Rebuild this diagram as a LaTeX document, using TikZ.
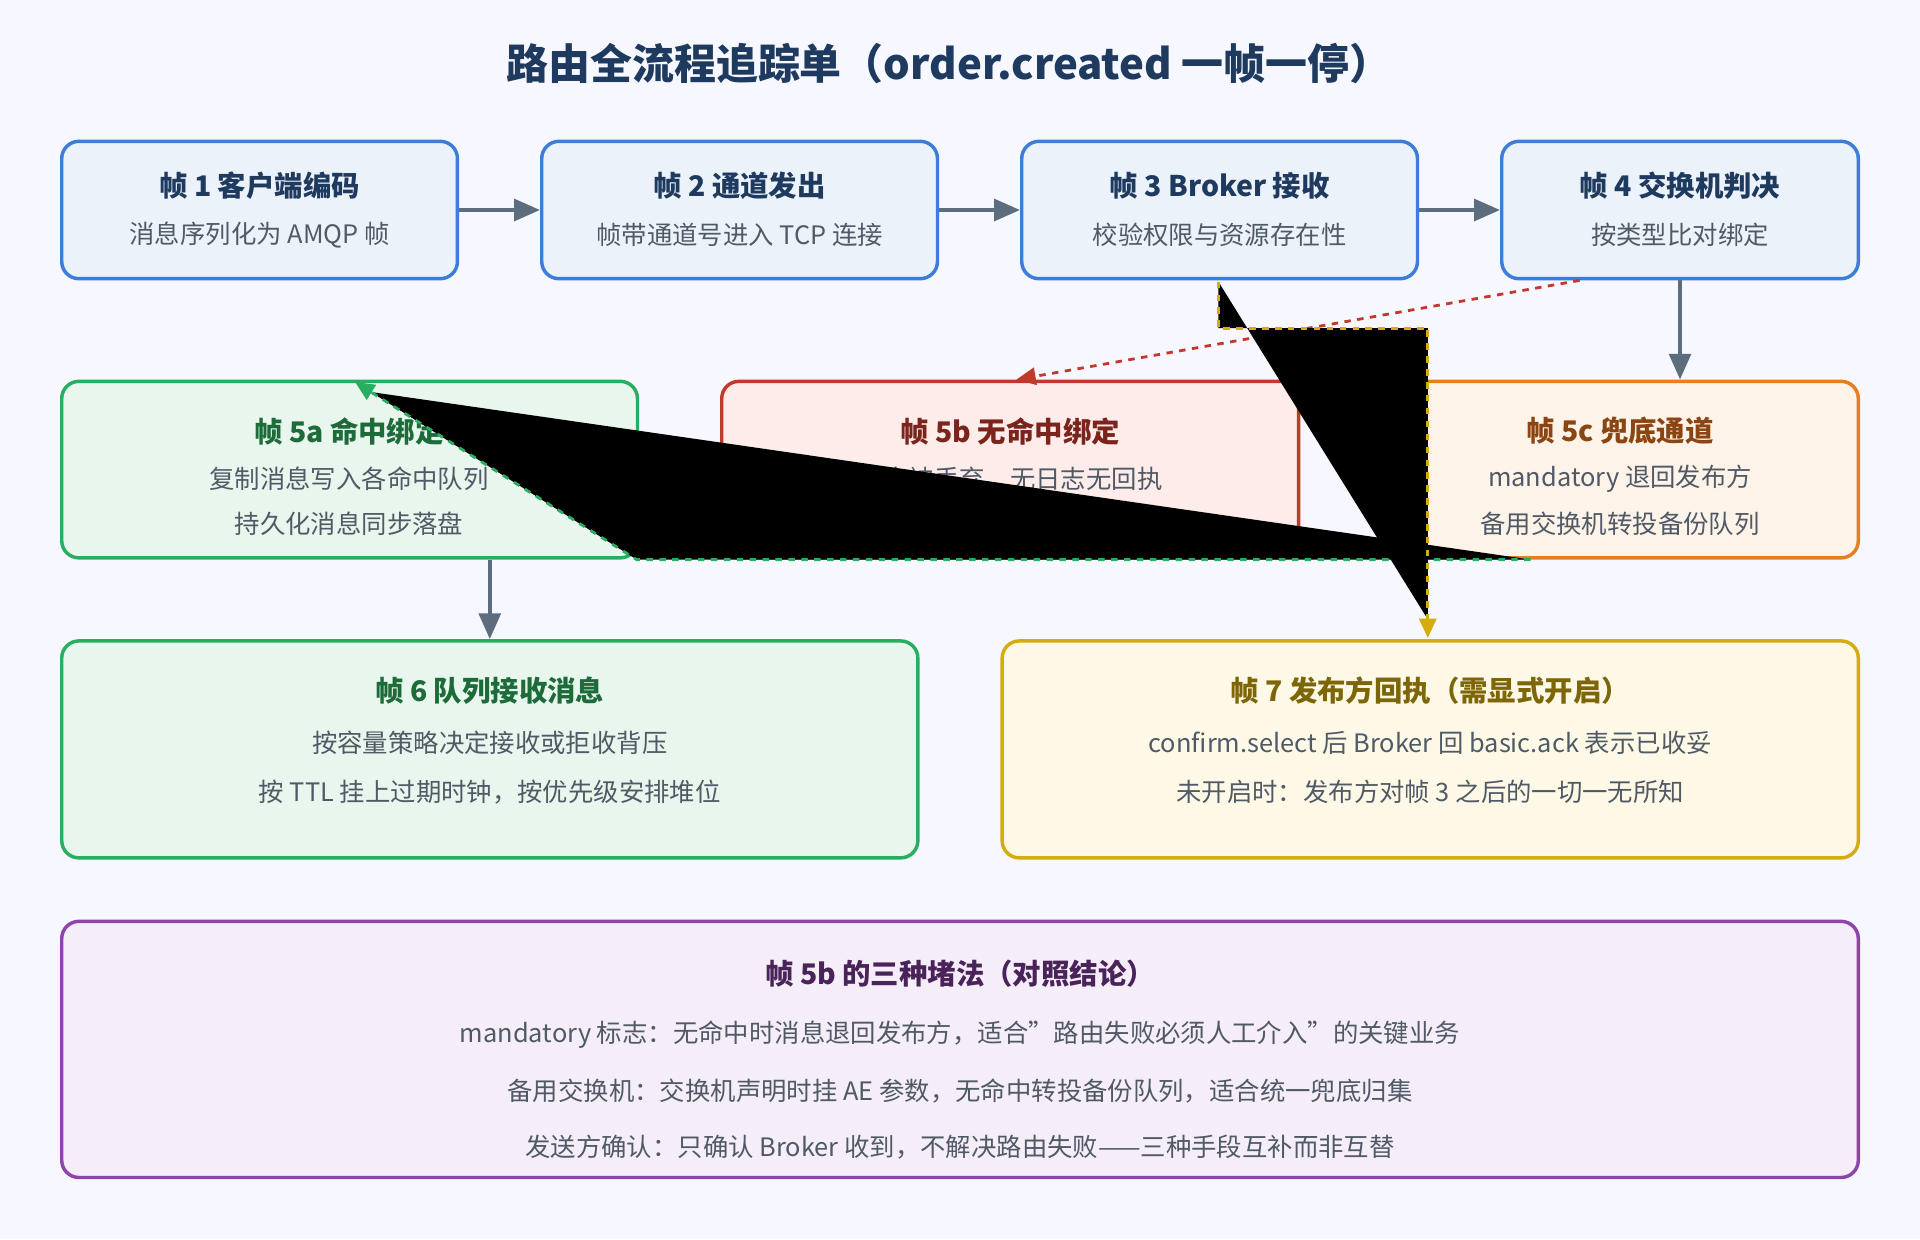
\documentclass[tikz,border=0pt]{standalone}
\usepackage{fontspec}
\setmainfont{Noto Sans CJK SC}
\usetikzlibrary{arrows.meta}
\definecolor{ttl}{HTML}{1F3A5F}
\definecolor{txt}{HTML}{505A66}
\definecolor{arr}{HTML}{5D6D7E}
\definecolor{bluF}{HTML}{EBF2FA}\definecolor{bluD}{HTML}{3B7DD8}
\definecolor{grnF}{HTML}{E8F6EE}\definecolor{grnD}{HTML}{27AE60}\definecolor{grnT}{HTML}{1E6B3A}
\definecolor{redF}{HTML}{FDECEA}\definecolor{redD}{HTML}{C0392B}\definecolor{redT}{HTML}{7B241C}
\definecolor{orgF}{HTML}{FEF3E8}\definecolor{orgD}{HTML}{E67E22}\definecolor{orgT}{HTML}{8B4513}
\definecolor{ylwF}{HTML}{FEF9E7}\definecolor{ylwD}{HTML}{D4AC0D}\definecolor{ylwT}{HTML}{7D6608}
\definecolor{purF}{HTML}{F5EEF8}\definecolor{purD}{HTML}{8E44AD}\definecolor{purT}{HTML}{4A235A}
\tikzset{
  frame/.style={draw, rounded corners=8pt, line width=1.6pt},
  head/.style={font=\fontsize{13.2}{15}\selectfont\bfseries},
  body/.style={font=\fontsize{11.8}{14}\selectfont, text=txt},
  flow/.style={draw=arr, line width=2pt, -{Triangle[length=12pt,width=10pt]}},
}
% box from corner to corner, name, fill, border
\newcommand\FBox[7]{
  \node[frame, fill=#6, draw=#7, minimum width={(#4-#2)*0.02cm-1.6pt}, minimum height={(#5-#3)*0.02cm-1.6pt}]
    (#1) at ({(#2+#4)/2}, {(#3+#5)/2}) {};
}
\begin{document}
\begin{tikzpicture}[x=0.02cm, y=-0.02cm]
  \fill[white!97!blue] (0,0) rectangle (1568,1012);
  \useasboundingbox (0,0) rectangle (1568,1012);
  \node[font=\fontsize{19.5}{22}\selectfont\bfseries, text=ttl] (title) at (775,52) {路由全流程追踪单（order.created 一帧一停）};

  % row 1
  \FBox{f1}{49}{114}{375}{229}{bluF}{bluD}
  \FBox{f2}{441}{114}{767}{229}{bluF}{bluD}
  \FBox{f3}{833}{114}{1159}{229}{bluF}{bluD}
  \FBox{f4}{1225}{114}{1519}{229}{bluF}{bluD}
  \node[head, text=ttl] (f1h) at (212,152) {帧 1 客户端编码};
  \node[body] (f1b) at (212,192) {消息序列化为 AMQP 帧};
  \node[head, text=ttl] (f2h) at (604,152) {帧 2 通道发出};
  \node[body] (f2b) at (604,192) {帧带通道号进入 TCP 连接};
  \node[head, text=ttl] (f3h) at (996,152) {帧 3 Broker 接收};
  \node[body] (f3b) at (996,192) {校验权限与资源存在性};
  \node[head, text=ttl] (f4h) at (1372,152) {帧 4 交换机判决};
  \node[body] (f4b) at (1372,192) {按类型比对绑定};

  % row 2
  \FBox{f5a}{49}{310}{522}{457}{grnF}{grnD}
  \FBox{f5b}{588}{310}{1062}{457}{redF}{redD}
  \FBox{f5c}{1128}{310}{1519}{457}{orgF}{orgD}
  \node[head, text=grnT] (f5ah) at (285,352) {帧 5a 命中绑定};
  \node[body] (f5ab1) at (285,391) {复制消息写入各命中队列};
  \node[body] (f5ab2) at (285,428) {持久化消息同步落盘};
  \node[head, text=redT] (f5bh) at (825,352) {帧 5b 无命中绑定};
  \node[body] (f5bb) at (825,391) {消息被丢弃，无日志无回执};
  \node[head, text=orgT] (f5ch) at (1323,352) {帧 5c 兜底通道};
  \node[body] (f5cb1) at (1323,391) {mandatory 退回发布方};
  \node[body] (f5cb2) at (1323,428) {备用交换机转投备份队列};

  % row 3
  \FBox{f6}{49}{522}{751}{702}{grnF}{grnD}
  \FBox{f7}{817}{522}{1519}{702}{ylwF}{ylwD}
  \node[head, text=grnT] (f6h) at (400,564) {帧 6 队列接收消息};
  \node[body] (f6b1) at (400,607) {按容量策略决定接收或拒收背压};
  \node[body] (f6b2) at (400,647) {按 TTL 挂上过期时钟，按优先级安排堆位};
  \node[head, text=ylwT] (f7h) at (1168,564) {帧 7 发布方回执（需显式开启）};
  \node[body] (f7b1) at (1168,607) {confirm.select 后 Broker 回 basic.ack 表示已收妥};
  \node[body] (f7b2) at (1168,647) {未开启时：发布方对帧 3 之后的一切一无所知};

  % row 4
  \FBox{nb}{49}{751}{1519}{963}{purF}{purD}
  \node[head, text=purT] (nbh) at (784,795) {帧 5b 的三种堵法（对照结论）};
  \node[body] (nb1) at (784,845) {mandatory 标志：无命中时消息退回发布方，适合\symbol{34}路由失败必须人工介入\symbol{34}的关键业务};
  \node[body] (nb2) at (784,891) {备用交换机：交换机声明时挂 AE 参数，无命中转投备份队列，适合统一兜底归集};
  \node[body] (nb3) at (784,937) {发送方确认：只确认 Broker 收到，不解决路由失败——三种手段互补而非互替};

  % connectors
  \draw[flow] (f1.east) -- (f2.west);
  \draw[flow] (f2.east) -- (f3.west);
  \draw[flow] (f3.east) -- (f4.west);
  \draw[flow] (f4.south) -- (f4.south |- f5c.north);
  \draw[flow] (f5a.south -| f6h) -- (f6.north -| f6h);
  \coordinate (r0) at (1290,229);
  \coordinate (r1) at (830,310);
  \draw[redD, dashed, line width=1.3pt, -{Triangle[length=9pt,width=8pt]}] (r0) -- (r1);
  \coordinate (g0) at (1250,457);
  \coordinate (g1) at (520,457);
  \coordinate (g2) at (290,312);
  \draw[grnD, dashed, line width=1.3pt, fill=black, -{Triangle[length=9pt,width=8pt]}] (g0) -- (g1) -- (g2);
  \coordinate (y0) at (995,230);
  \coordinate (y1) at (995,268);
  \coordinate (y2) at (1166,268);
  \coordinate (y3) at (1166,521);
  \draw[ylwD, dashed, line width=1.3pt, fill=black, -{Triangle[length=9pt,width=8pt]}] (y0) -- (y1) -- (y2) -- (y3);
\end{tikzpicture}
\end{document}
